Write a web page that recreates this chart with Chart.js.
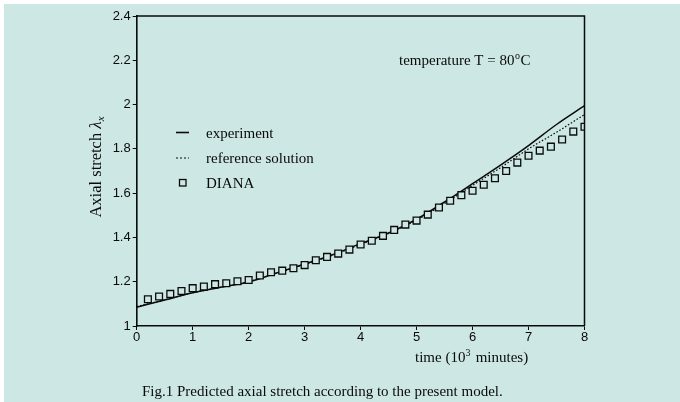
<!DOCTYPE html>
<html>
<head>
<meta charset="utf-8">
<script src="https://cdn.jsdelivr.net/npm/chart.js@4/dist/chart.umd.min.js"></script>
<style>
  html, body { margin: 0; padding: 0; background: #ffffff; }
  #wrap { position: absolute; left: 0; top: 0; width: 680px; height: 402px; }
</style>
</head>
<body>
<div id="wrap"><canvas id="c" width="680" height="402"></canvas></div>
<script>
// Time axis in thousands of minutes
const time = [0, 0.5, 1, 1.5, 2, 2.5, 3, 3.5, 4, 4.5, 5, 5.5, 6, 6.5, 7, 7.5, 8];
// Measured axial stretch
const experiment = [1.085, 1.117, 1.150, 1.175, 1.199, 1.240, 1.280, 1.322, 1.372, 1.420, 1.482, 1.560, 1.643, 1.727, 1.815, 1.910, 1.995];
// Reference solution
const reference = [1.088, 1.118, 1.150, 1.175, 1.200, 1.238, 1.278, 1.320, 1.368, 1.418, 1.478, 1.553, 1.635, 1.715, 1.800, 1.875, 1.955];
// DIANA results
const dianaTime = [0.2, 0.4, 0.6, 0.8, 1.0, 1.2, 1.4, 1.6, 1.8, 2.0, 2.2, 2.4, 2.6, 2.8, 3.0, 3.2, 3.4, 3.6, 3.8, 4.0,
                   4.2, 4.4, 4.6, 4.8, 5.0, 5.2, 5.4, 5.6, 5.8, 6.0, 6.2, 6.4, 6.6, 6.8, 7.0, 7.2, 7.4, 7.6, 7.8, 8.0];
const diana = [1.121, 1.133, 1.145, 1.158, 1.171, 1.178, 1.189, 1.193, 1.202, 1.208, 1.228, 1.243, 1.250, 1.261, 1.275, 1.297, 1.312, 1.327, 1.345, 1.368,
               1.385, 1.407, 1.434, 1.458, 1.476, 1.503, 1.535, 1.566, 1.591, 1.611, 1.638, 1.667, 1.700, 1.738, 1.769, 1.792, 1.810, 1.842, 1.878, 1.900];
const xTicks = [0, 1, 2, 3, 4, 5, 6, 7, 8];
const yTicks = [1, 1.2, 1.4, 1.6, 1.8, 2, 2.2, 2.4];

const BG = '#cde8e4';
const INK = '#0a0a0a';
const SERIF = '"Liberation Serif", "Times New Roman", serif';
const SANS = '"Liberation Sans", Arial, sans-serif';

const pts = (xs, ys) => xs.map((x, i) => ({ x: x, y: ys[i] }));

// Page background, frame, legend and text annotations
const decor = {
  id: 'decor',
  beforeDraw(chart) {
    const ctx = chart.ctx;
    ctx.save();
    ctx.fillStyle = '#ffffff';
    ctx.fillRect(0, 0, chart.width, chart.height);
    ctx.fillStyle = BG;
    ctx.fillRect(4, 4, chart.width - 4, chart.height - 4);
    ctx.restore();
  },
  afterDraw(chart) {
    const ctx = chart.ctx;
    const a = chart.chartArea;
    ctx.save();
    // frame
    ctx.strokeStyle = INK;
    ctx.lineWidth = 1.5;
    ctx.beginPath();
    ctx.moveTo(a.left, a.top);
    ctx.lineTo(a.right, a.top);
    ctx.lineTo(a.right, a.bottom);
    ctx.stroke();

    ctx.fillStyle = INK;
    ctx.textBaseline = 'alphabetic';

    // legend
    ctx.lineWidth = 1.6;
    ctx.beginPath();
    ctx.moveTo(176, 132.5); ctx.lineTo(189, 132.5); ctx.stroke();
    ctx.setLineDash([2, 2]);
    ctx.lineWidth = 1.1;
    ctx.beginPath();
    ctx.moveTo(176, 158); ctx.lineTo(189, 158); ctx.stroke();
    ctx.setLineDash([]);
    ctx.lineWidth = 1.3;
    ctx.strokeRect(179.5, 179.5, 6.5, 6.5);
    ctx.font = '15px ' + SERIF;
    ctx.textAlign = 'left';
    ctx.fillText('experiment', 206, 137.5);
    ctx.fillText('reference solution', 206, 162.5);
    ctx.fillText('DIANA', 206, 188);

    // temperature annotation
    ctx.font = '15px ' + SERIF;
    const t1 = 'temperature T = 80';
    ctx.fillText(t1, 399, 65);
    let w = ctx.measureText(t1).width;
    ctx.font = '10px ' + SERIF;
    ctx.fillText('o', 399 + w + 0.5, 59);
    const wo = ctx.measureText('o').width;
    ctx.font = '15px ' + SERIF;
    ctx.fillText('C', 399 + w + wo + 1, 65);

    // x axis title
    ctx.font = '15px ' + SERIF;
    let x = 415;
    const p1 = 'time (10';
    ctx.fillText(p1, x, 362);
    x += ctx.measureText(p1).width;
    ctx.font = '10px ' + SERIF;
    ctx.fillText('3', x, 356);
    x += ctx.measureText('3').width + 1.5;
    ctx.font = '15px ' + SERIF;
    ctx.fillText(' minutes)', x, 362);

    // caption
    ctx.font = '15px ' + SERIF;
    ctx.fillText('Fig.1 Predicted axial stretch according to the present model.', 142, 396);

    // y axis title (rotated)
    ctx.translate(101, 167);
    ctx.rotate(-Math.PI / 2);
    const yt = 'Axial stretch ';
    ctx.font = '16.5px ' + SERIF;
    const yw = ctx.measureText(yt).width;
    ctx.font = 'italic 17px ' + SERIF;
    const lw = ctx.measureText('\u03bb').width;
    ctx.font = 'italic 11px ' + SERIF;
    const xw = ctx.measureText('x').width;
    const total = yw + lw + xw;
    let yx = -total / 2;
    ctx.font = '16.5px ' + SERIF;
    ctx.fillText(yt, yx, 0);
    yx += yw;
    ctx.font = 'italic 17px ' + SERIF;
    ctx.fillText('\u03bb', yx, 0);
    yx += lw;
    ctx.font = 'italic 11px ' + SERIF;
    ctx.fillText('x', yx, 3);
    ctx.restore();
  }
};

new Chart(document.getElementById('c'), {
  type: 'line',
  data: {
    datasets: [
      {
        label: 'DIANA',
        data: pts(dianaTime, diana),
        showLine: false,
        pointStyle: 'rect',
        pointRadius: 4.8,
        pointBorderWidth: 1.3,
        pointBorderColor: INK,
        pointBackgroundColor: BG,
        order: 0
      },
      {
        label: 'experiment',
        data: pts(time, experiment),
        borderColor: INK,
        borderWidth: 1.5,
        pointRadius: 0,
        cubicInterpolationMode: 'monotone',
        fill: false,
        order: 1
      },
      {
        label: 'reference solution',
        data: pts(time, reference),
        borderColor: INK,
        borderWidth: 1.2,
        borderDash: [1.6, 1.8],
        pointRadius: 0,
        cubicInterpolationMode: 'monotone',
        fill: false,
        order: 2
      }
    ]
  },
  options: {
    responsive: false,
    animation: false,
    events: [],
    layout: { padding: { left: 0, right: 95.5, top: 16, bottom: 0 } },
    plugins: { legend: { display: false }, tooltip: { enabled: false } },
    scales: {
      x: {
        type: 'linear',
        min: 0, max: 8,
        afterFit(s) { s.height = 76; },
        afterBuildTicks(s) { s.ticks = xTicks.map(v => ({ value: v })); },
        ticks: {
          color: INK,
          font: { family: SANS, size: 13 },
          padding: 0,
          maxRotation: 0,
          callback: v => String(v)
        },
        grid: { display: true, drawOnChartArea: false, drawTicks: true, tickLength: 4, color: INK, lineWidth: 1 },
        border: { display: true, color: INK, width: 1.6 }
      },
      y: {
        type: 'linear',
        min: 1, max: 2.4,
        afterFit(s) { s.width = 136.7; },
        afterBuildTicks(s) { s.ticks = yTicks.map(v => ({ value: v })); },
        ticks: {
          color: INK,
          font: { family: SANS, size: 13 },
          padding: 2,
          callback: v => String(Number(v.toFixed(1)))
        },
        grid: { display: true, drawOnChartArea: false, drawTicks: true, tickLength: 4, color: INK, lineWidth: 1 },
        border: { display: true, color: INK, width: 1.6 }
      }
    }
  },
  plugins: [decor]
});
</script>
</body>
</html>
